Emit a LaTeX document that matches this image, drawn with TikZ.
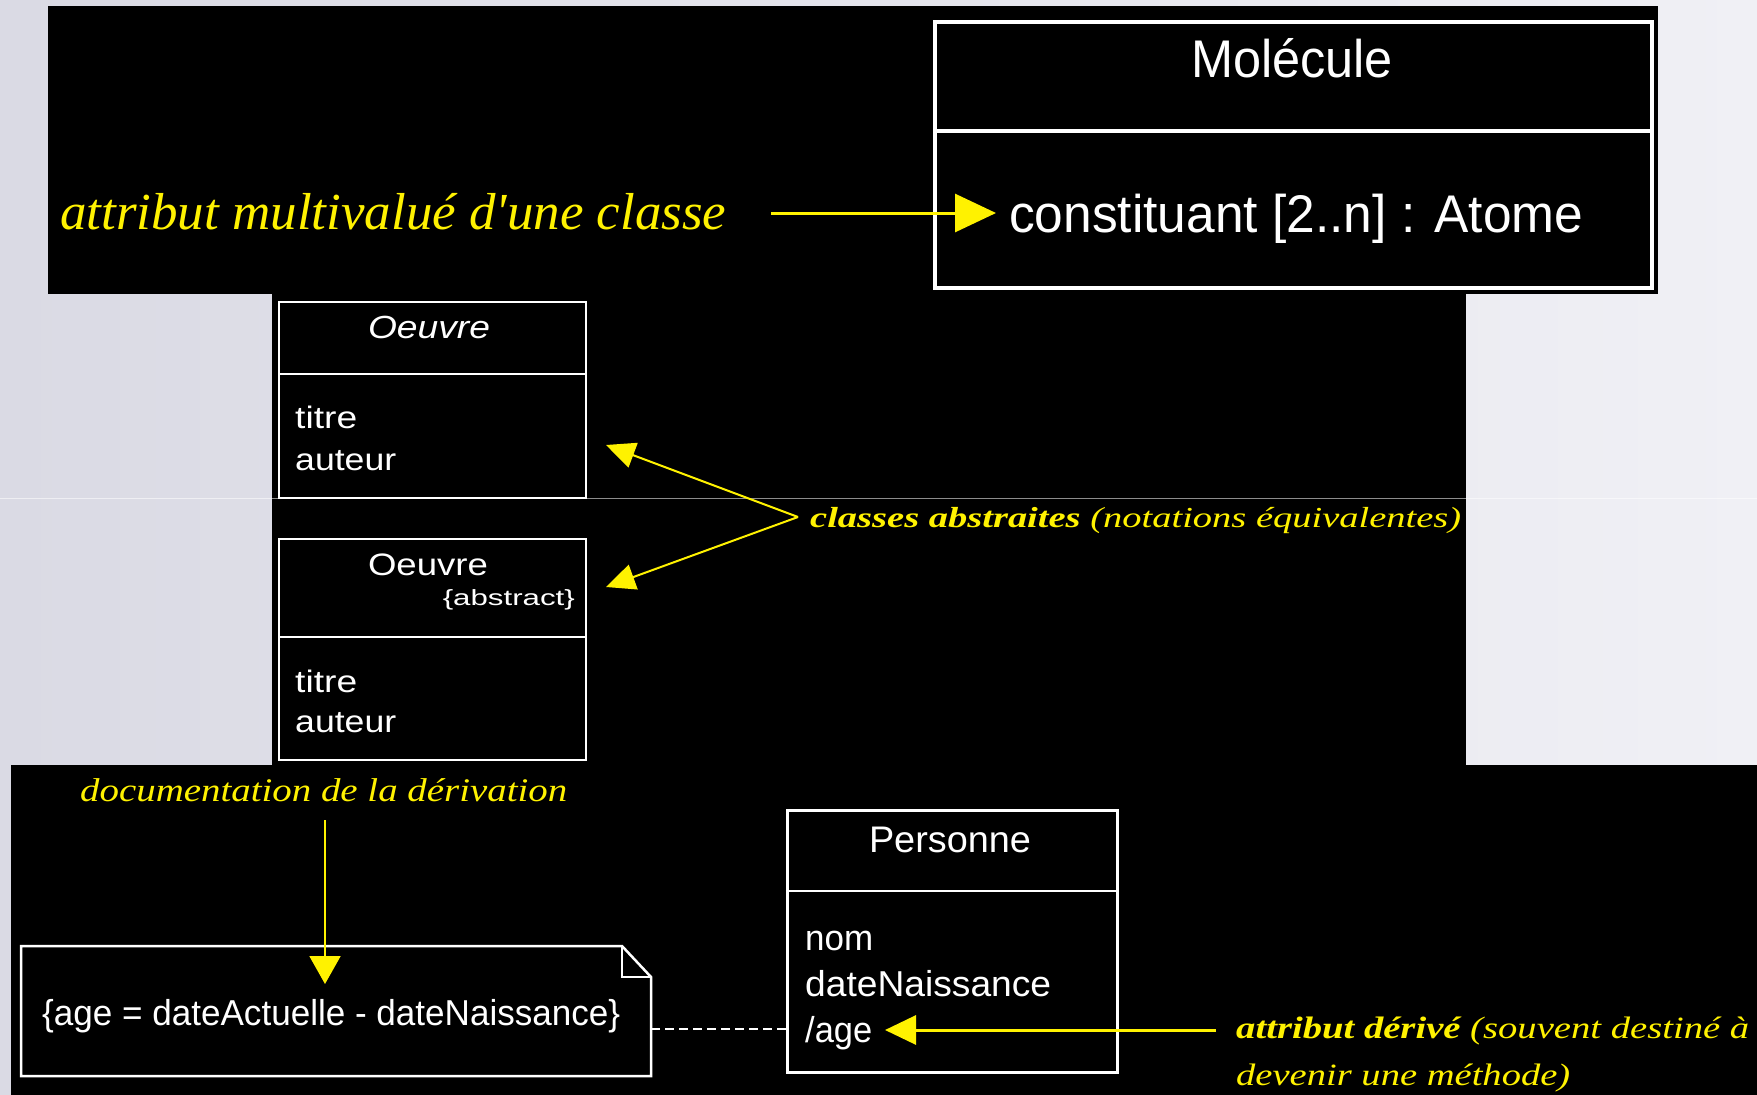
\documentclass[tikz,border=0pt]{standalone}
\usepackage{fontspec}
\usepackage{graphicx}
\usetikzlibrary{arrows.meta}
\setmainfont{Liberation Serif}
\newfontfamily\uisans{Liberation Sans}
\newcommand\fw[2]{\resizebox{#1pt}{\height}{#2}}
\definecolor{bgL}{RGB}{218,218,228}
\definecolor{bgR}{RGB}{240,240,245}
\begin{document}
\begin{tikzpicture}[x=1pt,y=-1pt,
  panel/.style={fill=black,draw=none},
  umlbox/.style={draw=white,line width=2.5pt,inner sep=0pt,anchor=north west,fill=black},
  wline/.style={draw=white,line width=2.5pt},
  wtxt/.style={text=white,inner sep=0pt,font=\uisans},
  ylab/.style={text=yellow,inner sep=0pt},
  ythick/.style={draw=yellow,line width=3pt},
  ythin/.style={draw=yellow,line width=2pt},
]
\useasboundingbox (0,0) rectangle (1757,1095);
% background
\shade[left color=bgL,right color=bgR] (0,0) rectangle (1757,1095);
% black panels
\fill[panel] (48,6) rectangle (1658,294);
\fill[panel] (272,294) rectangle (1466,765);
\fill[panel] (11,765) rectangle (1757,1095);
\draw[white,opacity=0.55,line width=0.8pt] (0,498) -- (1757,498);

% ---------- Molecule ----------
\node[umlbox,line width=3.5pt,minimum width=717pt,minimum height=266pt] (mol) at (933,20) {};
\draw[wline,line width=3.5pt] (933,131) -- (1650,131);
\node[wtxt,anchor=base,font=\uisans\fontsize{53}{60}\selectfont] (molname) at (1292,77) {\fw{202}{Molécule}};
\node[wtxt,anchor=base west,font=\uisans\fontsize{53}{60}\selectfont] (constit) at (1009,232) {\fw{574}{constituant [2..n] : Atome}};
\node[ylab,anchor=base west,font=\fontsize{52}{60}\selectfont\itshape] (lmulti) at (60,229) {\fw{666}{attribut multivalué d\textquotesingle une classe}};
\coordinate (a1s) at (771,213);
\coordinate (a1e) at (996,213);
\draw[ythick,-{Triangle[length=41pt,width=38pt]},yellow] (a1s) -- (a1e);

% ---------- Oeuvre (italic) ----------
\node[umlbox,line width=2pt,minimum width=307pt,minimum height=196pt] (oe1) at (278,301) {};
\draw[wline,line width=2pt] (278,374) -- (585,374);
\node[wtxt,anchor=base,font=\uisans\fontsize{32}{38}\selectfont\itshape] (oe1name) at (429,338) {\fw{122}{Oeuvre}};
\node[wtxt,anchor=base west,font=\uisans\fontsize{31}{38}\selectfont] (oe1a) at (295,428) {\fw{62}{titre}};
\node[wtxt,anchor=base west,font=\uisans\fontsize{31}{38}\selectfont] (oe1b) at (295,470) {\fw{101}{auteur}};

% ---------- Oeuvre {abstract} ----------
\node[umlbox,line width=2pt,minimum width=307pt,minimum height=221pt] (oe2) at (278,538) {};
\draw[wline,line width=2pt] (278,637) -- (585,637);
\node[wtxt,anchor=base,font=\uisans\fontsize{31}{38}\selectfont] (oe2name) at (428,575) {\fw{120}{Oeuvre}};
\node[wtxt,anchor=base east,font=\uisans\fontsize{22}{26}\selectfont] (oe2abs) at (575,605) {\fw{132}{\{abstract\}}};
\node[wtxt,anchor=base west,font=\uisans\fontsize{31}{38}\selectfont] (oe2a) at (295,692) {\fw{62}{titre}};
\node[wtxt,anchor=base west,font=\uisans\fontsize{31}{38}\selectfont] (oe2b) at (295,732) {\fw{101}{auteur}};

% classes abstraites label + arrows
\node[ylab,anchor=base west,font=\fontsize{29}{34}\selectfont\itshape] (labs) at (810,527) {\fw{651}{{\bfseries classes abstraites} (notations équivalentes)}};
\coordinate (cj) at (798,517);
\coordinate (t1) at (606,445);
\coordinate (t2) at (606,587);
\draw[ythin,-{Triangle[length=29pt,width=26pt]},yellow] (cj) -- (t1);
\draw[ythin,-{Triangle[length=29pt,width=26pt]},yellow] (cj) -- (t2);

% ---------- Note ----------
\draw[wline,fill=black] (21,946) -- (622,946) -- (651,977) -- (651,1076) -- (21,1076) -- cycle;
\draw[wline,line width=2pt] (622,946) -- (622,977) -- (651,977);
\node[inner sep=0pt,minimum width=630pt,minimum height=130pt,anchor=north west] (note) at (21,946) {};
\node[wtxt,anchor=base west,font=\uisans\fontsize{36}{42}\selectfont] (formula) at (42,1025) {\fw{578}{\{age = dateActuelle - dateNaissance\}}};
\node[ylab,anchor=base west,font=\fontsize{33}{38}\selectfont\itshape] (ldoc) at (80,801) {\fw{487}{documentation de la dérivation}};
\coordinate (dvs) at (325,820);
\coordinate (dve) at (325,984);
\draw[ythin,-{Triangle[length=28pt,width=31pt]},yellow] (dvs) -- (dve);

% ---------- Personne ----------
\node[umlbox,minimum width=330pt,minimum height=262pt] (pers) at (786,809) {};
\draw[wline] (786,891) -- (1116,891);
\node[wtxt,anchor=base,font=\uisans\fontsize{37}{42}\selectfont] (persname) at (950,852) {\fw{162}{Personne}};
\node[wtxt,anchor=base west,font=\uisans\fontsize{36}{42}\selectfont] (pnom) at (805,950) {\fw{68}{nom}};
\node[wtxt,anchor=base west,font=\uisans\fontsize{36}{42}\selectfont] (pdate) at (805,996) {\fw{246}{dateNaissance}};
\node[wtxt,anchor=base west,font=\uisans\fontsize{36}{42}\selectfont] (page) at (805,1042) {\fw{67}{/age}};

% dashed link note -- Personne
\coordinate (dl) at (651,1029);
\coordinate (dr) at (786,1029);
\draw[draw=white,line width=2pt,dash pattern=on 9pt off 5pt] (dl) -- (dr);

% attribut derive label + arrow
\node[ylab,anchor=base west,font=\fontsize{31}{36}\selectfont\itshape] (lder1) at (1236,1038) {\fw{513}{{\bfseries attribut dérivé} (souvent destiné à}};
\node[ylab,anchor=base west,font=\fontsize{31}{36}\selectfont\itshape] (lder2) at (1236,1085) {\fw{334}{devenir une méthode)}};
\coordinate (ags) at (1216,1030);
\coordinate (age) at (885,1030);
\draw[ythick,-{Triangle[length=31pt,width=29pt]},yellow] (ags) -- (age);
\end{tikzpicture}
\end{document}
